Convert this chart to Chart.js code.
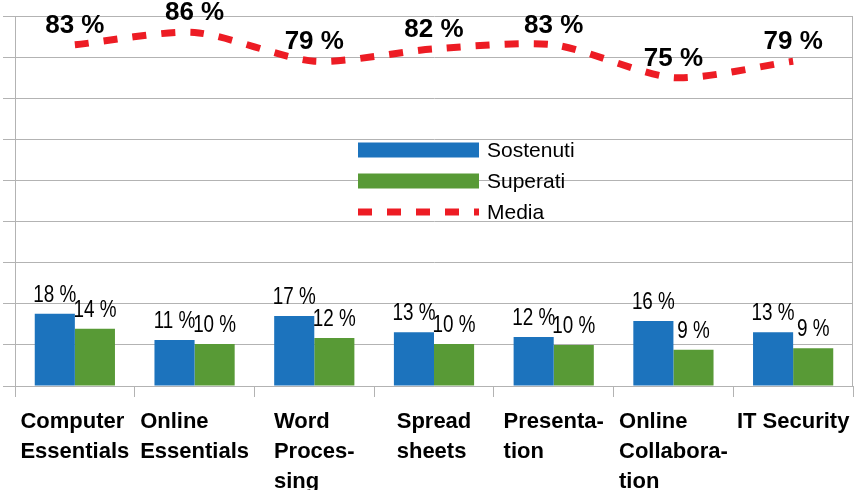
<!DOCTYPE html>
<html>
<head>
<meta charset="utf-8">
<script src="https://cdn.jsdelivr.net/npm/chart.js@4/dist/chart.umd.min.js"></script>
<style>
  body { margin: 0; background: #fff; }
  #wrap { width: 854px; height: 490px; position: relative; }
</style>
</head>
<body>
<div id="wrap"><canvas id="myChart"></canvas></div>
<script>
const categories = [
  ['Computer', 'Essentials'],
  ['Online', 'Essentials'],
  ['Word', 'Proces-', 'sing'],
  ['Spread', 'sheets'],
  ['Presenta-', 'tion'],
  ['Online', 'Collabora-', 'tion'],
  ['IT Security'],
];
const seriesNames = ['Sostenuti', 'Superati', 'Media'];
const sostenuti = [17.6, 11.2, 17.0, 13.1, 11.9, 15.8, 13.1];
const superati = [13.9, 10.2, 11.7, 10.2, 10.0, 8.8, 9.2];
const media = [83, 86, 79, 82, 83, 75, 79];
const yTicks = [0, 10, 20, 30, 40, 50, 60, 70, 80, 90];

const blueColor = '#1c73bd';
const greenColor = '#589a36';
const redColor = '#ed1c24';
const gridColor = '#b3b3b3';

// value labels above bars and line points
const valueLabels = {
  id: 'valueLabels',
  afterDatasetsDraw(chart) {
    const ctx = chart.ctx;
    ctx.save();
    ctx.textAlign = 'center';
    ctx.textBaseline = 'alphabetic';
    ctx.fillStyle = '#000';
    chart.data.datasets.forEach((ds, i) => {
      const meta = chart.getDatasetMeta(i);
      const isLine = ds.type === 'line';
      ctx.font = isLine ? 'bold 26px "Liberation Sans"' : '23px "Liberation Sans"';
      const sx = isLine ? 1 : 0.82; // bar labels use a condensed look
      meta.data.forEach((el, j) => {
        ctx.save();
        ctx.translate(el.x, el.y - 12);
        ctx.scale(sx, 1);
        ctx.fillText(Math.round(ds.data[j]) + ' %', 0, 0);
        ctx.restore();
      });
    });
    ctx.restore();
  }
};

// category labels: left aligned block centered under each category
const categoryLabels = {
  id: 'categoryLabels',
  afterDraw(chart) {
    const ctx = chart.ctx;
    const xs = chart.scales.x;
    ctx.save();
    ctx.font = 'bold 22px "Liberation Sans"';
    ctx.textAlign = 'left';
    ctx.textBaseline = 'alphabetic';
    ctx.fillStyle = '#000';
    categories.forEach((lines, i) => {
      const cx = xs.getPixelForValue(i);
      const w = Math.max(...lines.map(t => ctx.measureText(t).width));
      lines.forEach((t, k) => {
        ctx.fillText(t, cx - w / 2, xs.bottom + 31 + k * 30);
      });
    });
    // right frame line
    const area = chart.chartArea;
    ctx.strokeStyle = gridColor;
    ctx.lineWidth = 1;
    ctx.beginPath();
    ctx.moveTo(area.right - 0.5, area.top);
    ctx.lineTo(area.right - 0.5, area.bottom);
    ctx.stroke();
    ctx.restore();
  }
};

// legend drawn inside the plot, in series order
const innerLegend = {
  id: 'innerLegend',
  afterDraw(chart) {
    const ctx = chart.ctx;
    const x0 = 358, x1 = 479, top = 150, step = 31;
    ctx.save();
    ctx.font = '21px "Liberation Sans"';
    ctx.textBaseline = 'middle';
    seriesNames.forEach((name, i) => {
      const ds = chart.data.datasets.find(d => d.label === name);
      const y = top + i * step;
      if (ds.type === 'line') {
        ctx.strokeStyle = ds.borderColor;
        ctx.lineWidth = ds.borderWidth;
        ctx.setLineDash(ds.borderDash);
        ctx.beginPath();
        ctx.moveTo(x0, y);
        ctx.lineTo(x1, y);
        ctx.stroke();
        ctx.setLineDash([]);
      } else {
        ctx.fillStyle = ds.backgroundColor;
        ctx.fillRect(x0, y - 7.5, x1 - x0, 15);
      }
      ctx.fillStyle = '#000';
      ctx.fillText(name, x1 + 8, y + 1);
    });
    ctx.restore();
  }
};

var ctx = document.getElementById('myChart');
var data = {
  labels: categories.map(c => c.join(' ')),
  datasets: [
    {
      type: 'bar',
      label: seriesNames[0],
      data: sostenuti,
      backgroundColor: blueColor,
      order: 2,
    },
    {
      type: 'bar',
      label: seriesNames[1],
      data: superati,
      backgroundColor: greenColor,
      order: 2,
    },
    {
      type: 'line',
      label: seriesNames[2],
      data: media,
      borderColor: redColor,
      borderWidth: 7,
      borderDash: [14, 15],
      borderCapStyle: 'butt',
      pointRadius: 0,
      tension: 0.25,
      fill: false,
      order: 1,
    },
  ],
};

var chart = new Chart(ctx, {
  data: data,
  plugins: [valueLabels, categoryLabels, innerLegend],
  options: {
    responsive: true,
    maintainAspectRatio: false,
    animation: false,
    layout: { autoPadding: false, padding: { left: 3, top: 16, right: 1, bottom: 93 } },
    datasets: { bar: { barPercentage: 1.0, categoryPercentage: 0.67 } },
    plugins: { legend: { display: false }, tooltip: { enabled: false } },
    scales: {
      x: {
        grid: { offset: true, drawOnChartArea: false, drawTicks: true, tickLength: 11, color: gridColor },
        border: { color: gridColor },
        ticks: { display: false },
      },
      y: {
        min: yTicks[0],
        max: yTicks[yTicks.length - 1],
        afterBuildTicks: (axis) => { axis.ticks = yTicks.map(v => ({ value: v })); },
        grid: { color: gridColor, tickLength: 12 },
        border: { color: gridColor },
        ticks: { display: false },
      },
    },
  },
});
</script>
</body>
</html>
